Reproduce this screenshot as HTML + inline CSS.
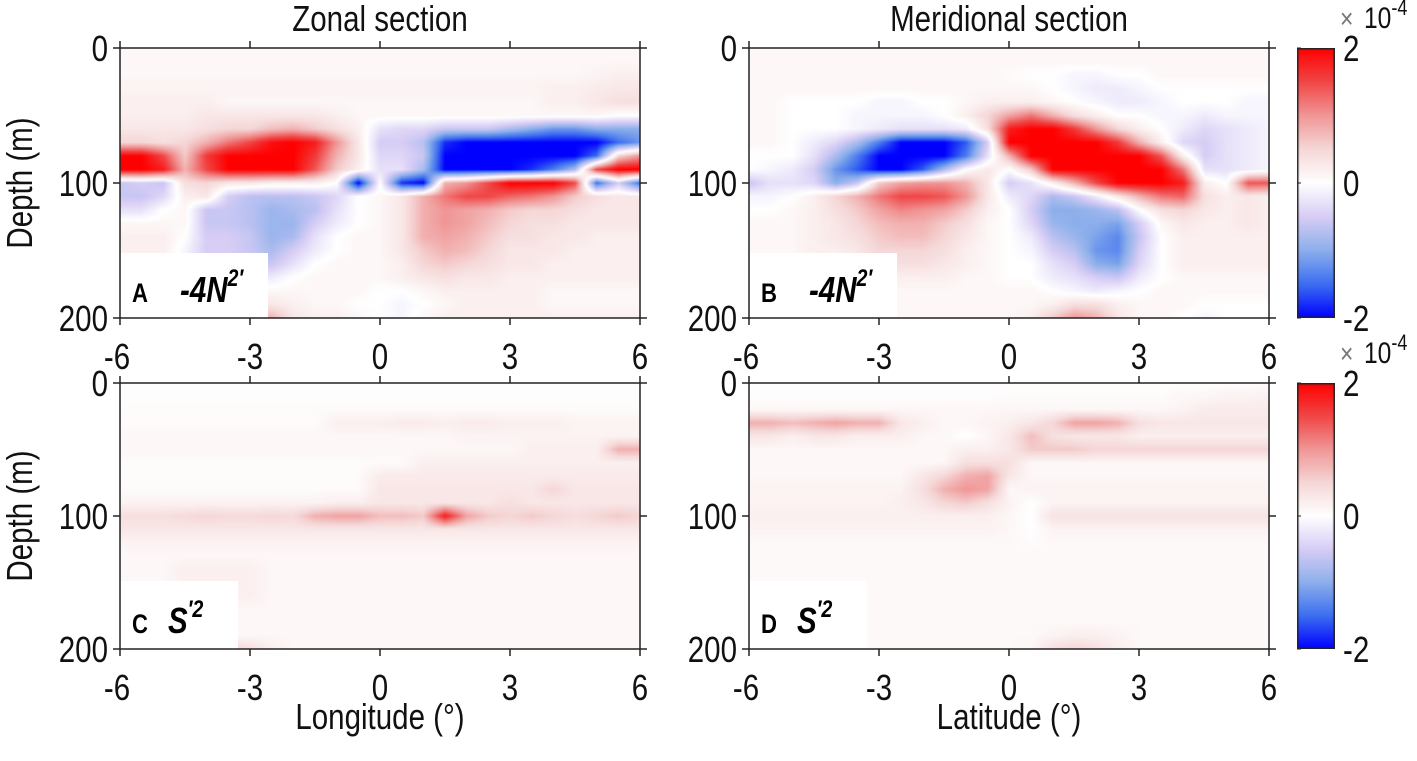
<!DOCTYPE html>
<html><head><meta charset="utf-8">
<style>
html,body{margin:0;padding:0;background:#fff;}
#wrap{position:relative;width:1417px;height:761px;overflow:hidden;font-family:"Liberation Sans",sans-serif;}
canvas{position:absolute;}
svg{position:absolute;left:0;top:0;}
</style></head>
<body>
<div id="wrap">
<canvas id="cA" width="520" height="270" style="left:120px;top:48px"></canvas>
<canvas id="cB" width="521" height="270" style="left:749px;top:48px"></canvas>
<canvas id="cC" width="520" height="266" style="left:120px;top:383px"></canvas>
<canvas id="cD" width="521" height="266" style="left:749px;top:383px"></canvas>
<canvas id="cb1" width="38" height="270" style="left:1297px;top:48px"></canvas>
<canvas id="cb2" width="38" height="266" style="left:1297px;top:383px"></canvas>
<svg id="ov" width="1417" height="761"></svg>
</div>
<script>
// grid: columns -6..6 step 0.5 (25), rows depth 0..200 step 10 (21); values in 1e-4
const xCoords=[-6,-5.5,-5,-4.5,-4,-3.5,-3,-2.5,-2,-1.5,-1,-0.5,0,0.5,1,1.5,2,2.5,3,3.5,4,4.5,5,5.5,6];
const depths=[0,10,20,30,40,50,60,70,80,90,100,110,120,130,140,150,160,170,180,190,200];
const xTicks=[-6,-3,0,3,6];
const yTicks=[0,100,200];
const cbTicks=[2,0,-2];

const panelA=[
[0.1,0.1,0.1,0.1,0.1,0.1,0.1,0.1,0.1,0.1,0.1,0.1,0.1,0.1,0.1,0.1,0.1,0.1,0.1,0.1,0.1,0.1,0.1,0.1,0.1],
[0.1,0.1,0.1,0.1,0.1,0.1,0.1,0.1,0.1,0.1,0.1,0.1,0.1,0.1,0.1,0.1,0.1,0.1,0.1,0.1,0.1,0.1,0.1,0.1,0.1],
[0.1,0.1,0.1,0.1,0.1,0.1,0.1,0.1,0.1,0.1,0.1,0.1,0.1,0.1,0.1,0.1,0.1,0.1,0.1,0.1,0.1,0.1,0.15,0.2,0.2],
[0.15,0.15,0.15,0.15,0.15,0.15,0.15,0.15,0.15,0.15,0.15,0.15,0.15,0.15,0.15,0.15,0.15,0.15,0.15,0.15,0.2,0.2,0.25,0.3,0.3],
[0.2,0.2,0.2,0.2,0.2,0.1,0.1,0.1,0.1,0.1,0.1,0.1,0.1,0.1,0.1,0.1,0.1,0.1,0.1,0.1,0.2,0.2,0.3,0.4,0.4],
[0.2,0.2,0.2,0.2,0.3,0.3,0.3,0.3,0.3,0.3,0.2,0.1,0.1,0.1,0.1,0.1,0.1,0.1,0.1,0.1,0.1,0.1,0.1,0,0],
[0.3,0.3,0.3,0.3,0.4,0.5,0.5,0.7,0.8,0.6,0.4,0.2,-0.3,-0.4,-0.4,-0.6,-0.6,-0.6,-0.8,-1,-1.2,-1.2,-1,-1,-1],
[0.5,0.5,0.4,0.5,0.8,1.2,1.5,1.9,2,1.8,1,0.3,-0.5,-0.5,-0.7,-1.8,-2,-2,-2,-2,-2,-2,-2,-1.5,-1.2],
[2,2,1.5,0.6,1.6,2,2,2,2,1.6,0.8,0.3,-0.4,-0.4,-0.6,-2,-2,-2,-2,-2,-2,-2,-1.5,0.5,1],
[2,2,1.8,0.8,1.5,2,2,2,2,1.4,0.6,0.2,-0.3,-0.3,-0.8,-2,-2,-2,-2,-1.8,-1.4,-0.8,1.5,2,2],
[-0.6,-0.5,-0.6,0.4,0.5,0.3,0.3,0.2,0.2,0.2,0,-2,0,-1.8,-2,0.8,1,1.5,2,2,2,1.5,-1.5,-0.5,-1.5],
[-0.6,-0.6,-0.4,0.2,0.3,-0.5,-0.7,-0.7,-0.7,-0.6,-0.4,0,0.1,0.3,0.8,1.2,1.5,1.5,1.3,1.2,1,0.6,0.4,0.3,0.3],
[-0.3,-0.3,0,0.1,-0.6,-0.6,-0.7,-0.9,-0.8,-0.7,-0.3,0,0.1,0.3,0.8,1,0.9,0.8,0.6,0.5,0.5,0.4,0.3,0.3,0.3],
[0.1,0.1,0.1,0.1,-0.6,-0.6,-0.7,-0.9,-0.9,-0.5,-0.2,0,0.1,0.3,0.8,1,0.9,0.7,0.5,0.4,0.4,0.3,0.3,0.3,0.3],
[0.2,0.2,0.2,0,-0.5,-0.5,-0.6,-0.9,-0.8,-0.3,0,0.1,0.1,0.3,0.8,0.9,0.8,0.6,0.4,0.4,0.3,0.3,0.2,0.2,0.2],
[0.2,0.2,0.2,-0.1,-0.5,-0.5,-0.6,-0.8,-0.5,-0.2,0,0.1,0.1,0.3,0.6,0.8,0.7,0.5,0.3,0.3,0.3,0.2,0.2,0.2,0.2],
[0.2,0.2,0.2,-0.1,-0.4,-0.4,-0.5,-0.6,-0.3,0,0.1,0.1,0.1,0.2,0.5,0.6,0.5,0.4,0.3,0.3,0.2,0.2,0.2,0.2,0.2],
[0.2,0.2,0.2,0,-0.2,-0.2,-0.2,-0.2,0,0.1,0.1,0.1,0.1,0.2,0.3,0.4,0.3,0.3,0.2,0.2,0.2,0.2,0.2,0.2,0.2],
[0.1,0.1,0.1,0.1,0.1,0.1,0.1,0.1,0.1,0.1,0.1,0.1,0,0,0.1,0.2,0.2,0.2,0.2,0.2,0.1,0.1,0.1,0.1,0.1],
[0.2,0.2,0.2,0.1,0.1,0.2,0.3,0.3,0.2,0.1,0.1,0,0,-0.1,0,0.1,0.2,0.2,0.2,0.2,0.1,0.1,0.1,0.1,0.1],
[0.2,0.2,0.2,0.2,0.2,0.3,0.5,0.8,0.3,0.2,0.2,0.1,0,-0.1,0.1,0.2,0.2,0.2,0.2,0.2,0.2,0.2,0.2,0.2,0.2]
];
const panelB=[
[0.1,0.1,0.1,0.1,0.1,0.1,0.1,0.1,0.1,0.1,0.1,0.1,0.1,0.1,0.1,0.1,0.1,0.1,0.1,0.1,0.1,0.1,0.1,0.1,0.1],
[0.1,0.1,0.1,0.1,0.1,0.1,0.1,0.1,0.1,0.1,0.1,0.1,0.1,0.1,0.1,0.1,0.1,0.1,0.1,0.1,0.1,0.1,0.1,0.1,0.1],
[0.1,0.1,0.1,0.1,0.1,0.1,0.1,0.1,0.1,0.1,0.1,0.1,0.05,0,0,-0.1,-0.1,0,0,0.1,0.1,0.1,0.1,0.1,0.1],
[0.1,0.1,0.1,0.1,0.1,0.1,0.1,0.1,0.1,0.1,0.1,0.1,0.1,0.1,0,-0.1,-0.2,-0.2,-0.1,0,0,0,0,0,0],
[0.1,0.1,0,0,0,0,-0.1,-0.1,0,0,0.1,0.2,0.2,0.2,0.1,0,-0.1,-0.2,-0.2,-0.1,0,0,0,-0.1,-0.1],
[0.1,0.1,0,0,0,-0.1,-0.1,-0.1,-0.1,0,0.2,0.5,0.9,1.2,0.8,0.4,0.2,0,0,-0.1,-0.1,-0.2,-0.1,-0.1,-0.1],
[0.1,0.1,0,0,0,-0.1,-0.2,-0.3,-0.3,-0.3,-0.2,0.4,1.8,2,2,1.6,1,0.5,0.2,0,-0.2,-0.4,-0.3,-0.2,-0.1],
[0.1,0.1,0,-0.2,-0.4,-0.8,-1.4,-2,-2,-2,-1.6,-0.5,2,2,2,2,2,1.6,0.8,0.2,-0.4,-0.5,-0.3,-0.2,-0.1],
[0,0,0,-0.3,-0.8,-1.4,-2,-2,-2,-2,-1.4,-0.3,0.8,2,2,2,2,2,2,1.4,0.2,-0.5,-0.3,-0.2,-0.1],
[0,-0.1,-0.2,-0.5,-1.2,-1.6,-2,-2,-1.6,-0.8,0,0.3,0,0.6,2,2,2,2,2,2,1.2,-0.3,-0.3,-0.2,-0.1],
[-0.6,-0.3,-0.3,-0.4,-1,-0.6,0.6,0.9,1,1,0.8,0.3,-0.5,-0.3,0.2,0.8,1.5,2,2,2,1.8,0.2,0,1.4,1.4],
[-0.1,-0.1,0,0.2,0.5,0.8,1.2,1.5,1.5,1.4,1,0.3,-0.2,-0.4,-0.8,-0.6,-0.2,0.3,0.8,1.2,1.3,0.4,0.2,0.3,0.2],
[0,0,0.1,0.2,0.4,0.6,0.9,1.1,1,0.9,0.6,0.2,0,-0.5,-1,-1,-0.9,-0.7,0,0.4,0.5,0.3,0.2,0.3,0.2],
[0.1,0.1,0.1,0.2,0.3,0.5,0.7,0.8,0.8,0.6,0.4,0.1,0,-0.4,-0.9,-1,-1,-1.1,-0.5,0.1,0.3,0.2,0.2,0.3,0.2],
[0.1,0.1,0.1,0.2,0.3,0.4,0.6,0.7,0.7,0.5,0.3,0.1,0,-0.2,-0.7,-0.9,-1.1,-1.3,-0.6,0,0.2,0.2,0.2,0.2,0.2],
[0.1,0.1,0.1,0.2,0.2,0.3,0.5,0.5,0.5,0.4,0.2,0.1,0,-0.1,-0.5,-0.7,-1.2,-1.3,-0.5,0,0.2,0.2,0.2,0.2,0.2],
[0.1,0.1,0.1,0.1,0.2,0.3,0.4,0.4,0.4,0.3,0.2,0.1,0,0,-0.3,-0.5,-1,-1.1,-0.4,0,0.2,0.2,0.2,0.2,0.2],
[0.1,0.1,0.1,0.1,0.1,0.2,0.2,0.2,0.2,0.2,0.1,0.1,0,0,-0.2,-0.3,-0.5,-0.6,-0.2,0,0.1,0.1,0.1,0.1,0.1],
[0.1,0.1,0.1,0.1,0.1,0.1,0.1,0.1,0.1,0.1,0.1,0.1,0.1,0.1,0,-0.1,-0.2,-0.1,0,0.1,0.1,0.1,0.1,0.1,0.1],
[0.1,0.1,0.1,0.1,0.1,0.1,0.1,0.1,0.1,0.1,0.1,0.1,0.1,0.1,0.2,0.4,0.4,0.2,0.1,0.1,0.1,0,0,0,0],
[0.1,0.1,0.1,0.1,0.1,0.1,0.1,0.1,0.1,0.1,0.1,0.1,0.1,0.2,0.6,1,0.8,0.3,0.1,0.1,0,-0.1,0,0,0]
];
const panelC=[
[0.03,0.03,0.03,0.03,0.03,0.03,0.03,0.03,0.03,0.03,0.03,0.03,0.03,0.03,0.03,0.03,0.03,0.03,0.03,0.03,0.03,0.03,0.03,0.03,0.03],
[0.03,0.03,0.03,0.03,0.03,0.03,0.03,0.03,0.03,0.03,0.03,0.03,0.03,0.03,0.03,0.03,0.03,0.03,0.03,0.03,0.03,0.03,0.03,0.03,0.03],
[0.05,0.05,0.05,0.05,0.05,0.05,0.05,0.05,0.05,0.05,0.05,0.05,0.05,0.05,0.05,0.05,0.05,0.05,0.05,0.05,0.05,0.05,0.05,0.05,0.05],
[0.05,0.05,0.05,0.05,0.05,0.05,0.05,0.05,0.05,0.05,0.2,0.2,0.2,0.25,0.25,0.2,0.25,0.25,0.2,0.2,0.2,0.15,0.15,0.15,0.15],
[0.1,0.1,0.1,0.1,0.1,0.1,0.1,0.1,0.1,0.1,0.1,0.1,0.1,0.1,0.1,0.1,0.15,0.15,0.15,0.15,0.15,0.15,0.15,0.15,0.15],
[0.1,0.1,0.1,0.1,0.1,0.1,0.1,0.1,0.1,0.1,0.1,0.1,0.1,0.1,0.1,0.1,0.1,0.1,0.1,0.2,0.2,0.2,0.2,0.8,0.8],
[0.05,0.05,0.05,0.05,0.05,0.05,0.05,0.05,0.05,0.05,0.05,0.05,0.05,0.05,0.2,0.2,0.2,0.2,0.2,0.2,0.2,0.2,0.2,0.2,0.2],
[0.05,0.05,0.05,0.05,0.05,0.05,0.05,0.05,0.05,0.05,0.05,0.05,0.25,0.25,0.25,0.25,0.25,0.25,0.25,0.25,0.25,0.25,0.25,0.25,0.25],
[0.05,0.05,0.05,0.05,0.05,0.05,0.05,0.05,0.05,0.05,0.05,0.05,0.3,0.3,0.3,0.3,0.3,0.3,0.3,0.3,0.5,0.3,0.3,0.3,0.3],
[0.15,0.15,0.15,0.15,0.15,0.15,0.15,0.15,0.15,0.15,0.2,0.2,0.3,0.3,0.3,0.3,0.3,0.3,0.4,0.3,0.3,0.3,0.3,0.3,0.3],
[0.4,0.4,0.4,0.45,0.5,0.45,0.45,0.5,0.45,0.8,0.9,0.9,0.7,0.7,0.6,1.8,0.9,0.6,0.5,0.6,0.5,0.4,0.5,0.6,0.5],
[0.3,0.3,0.3,0.3,0.3,0.3,0.3,0.3,0.3,0.3,0.3,0.3,0.3,0.3,0.3,0.3,0.3,0.3,0.3,0.3,0.3,0.3,0.3,0.3,0.3],
[0.15,0.15,0.15,0.15,0.15,0.15,0.15,0.15,0.15,0.15,0.15,0.15,0.15,0.15,0.15,0.15,0.15,0.15,0.15,0.15,0.15,0.15,0.15,0.15,0.15],
[0.1,0.1,0.1,0.1,0.1,0.1,0.1,0.1,0.1,0.1,0.1,0.1,0.1,0.1,0.1,0.1,0.1,0.1,0.1,0.1,0.1,0.1,0.1,0.1,0.1],
[0.1,0.1,0.1,0.2,0.2,0.2,0.2,0.1,0.1,0.1,0.1,0.1,0.1,0.1,0.1,0.1,0.1,0.1,0.1,0.1,0.1,0.1,0.1,0.1,0.1],
[0.1,0.1,0.1,0.2,0.2,0.2,0.2,0.1,0.1,0.1,0.1,0.1,0.1,0.1,0.1,0.1,0.1,0.1,0.1,0.1,0.1,0.1,0.1,0.1,0.1],
[0.1,0.1,0.1,0.2,0.2,0.2,0.2,0.1,0.1,0.1,0.1,0.1,0.1,0.1,0.1,0.1,0.1,0.1,0.1,0.1,0.1,0.1,0.1,0.1,0.1],
[0.1,0.1,0.1,0.1,0.1,0.1,0.1,0.1,0.1,0.1,0.1,0.1,0.1,0.1,0.1,0.1,0.1,0.1,0.1,0.1,0.1,0.1,0.1,0.1,0.1],
[0.1,0.1,0.1,0.1,0.1,0.1,0.1,0.1,0.1,0.1,0.1,0.1,0.1,0.1,0.1,0.1,0.1,0.1,0.1,0.1,0.1,0.1,0.1,0.1,0.1],
[0.1,0.1,0.1,0.1,0.1,0.1,0.1,0.1,0.1,0.1,0.1,0.1,0.1,0.1,0.1,0.1,0.1,0.1,0.1,0.1,0.1,0.1,0.1,0.1,0.1],
[0.1,0.1,0.1,0.2,0.4,0.5,0.4,0.2,0.1,0.1,0.1,0.1,0.1,0.1,0.1,0.1,0.1,0.1,0.1,0.1,0.1,0.1,0.1,0.1,0.1]
];
const panelD=[
[0.03,0.03,0.03,0.03,0.03,0.03,0.03,0.03,0.03,0.03,0.03,0.03,0.03,0.03,0.03,0.03,0.03,0.03,0.03,0.03,0.03,0.03,0.03,0.03,0.03],
[0.03,0.03,0.03,0.03,0.03,0.03,0.03,0.03,0.03,0.03,0.03,0.03,0.05,0.05,0.05,0.05,0.05,0.05,0.05,0.05,0.1,0.1,0.15,0.15,0.2],
[0.1,0.1,0.1,0.1,0.1,0.1,0.1,0.1,0.1,0.1,0.1,0.1,0.1,0.1,0.1,0.1,0.1,0.1,0.1,0.1,0.15,0.25,0.25,0.25,0.25],
[0.8,0.8,0.7,0.8,0.9,0.8,0.8,0.3,0.2,0.1,0.1,0.15,0.2,0.3,0.5,0.9,0.9,0.8,0.4,0.3,0.3,0.3,0.3,0.3,0.3],
[0.3,0.3,0.2,0.3,0.3,0.2,0.2,0.2,0.1,0.1,0,0.1,0.3,0.7,0.4,0.3,0.3,0.3,0.2,0.2,0.2,0.2,0.2,0.2,0.2],
[0.1,0.1,0.1,0.1,0.1,0.1,0.1,0.1,0.1,0.1,0.2,0.2,0.3,0.6,0.6,0.6,0.5,0.5,0.5,0.5,0.5,0.5,0.5,0.5,0.5],
[0.1,0.1,0.1,0.1,0.1,0.1,0.1,0.1,0.1,0.1,0.4,0.4,0.4,0.1,0.1,0.1,0.1,0.1,0.1,0.1,0.1,0.1,0.1,0.1,0.1],
[0.1,0.1,0.1,0.1,0.1,0.1,0.1,0.1,0.3,0.5,0.8,0.9,0.3,0.1,0.1,0.1,0.1,0.1,0.1,0.1,0.1,0.1,0.1,0.1,0.1],
[0.15,0.15,0.15,0.15,0.15,0.15,0.15,0.15,0.4,0.8,1,0.9,0.1,0.15,0.15,0.15,0.15,0.15,0.15,0.15,0.15,0.15,0.15,0.15,0.15],
[0.15,0.15,0.15,0.15,0.15,0.15,0.15,0.2,0.3,0.5,0.6,0.4,0.15,0,0.15,0.15,0.15,0.15,0.15,0.15,0.15,0.15,0.15,0.15,0.15],
[0.2,0.2,0.2,0.2,0.2,0.2,0.2,0.2,0.2,0.2,0.2,0.2,0.1,0,0.35,0.35,0.35,0.35,0.35,0.35,0.35,0.35,0.35,0.35,0.35],
[0.15,0.15,0.15,0.15,0.15,0.15,0.15,0.15,0.15,0.15,0.15,0.15,0.1,0,0.15,0.15,0.15,0.15,0.15,0.15,0.15,0.15,0.15,0.15,0.15],
[0.08,0.08,0.08,0.08,0.08,0.08,0.08,0.08,0.08,0.08,0.08,0.08,0.08,0.05,0.08,0.08,0.08,0.08,0.08,0.08,0.08,0.08,0.08,0.08,0.08],
[0.08,0.08,0.08,0.08,0.08,0.08,0.08,0.08,0.08,0.08,0.08,0.08,0.08,0.08,0.08,0.08,0.08,0.08,0.08,0.08,0.08,0.08,0.08,0.08,0.08],
[0.08,0.08,0.08,0.08,0.08,0.08,0.08,0.08,0.08,0.08,0.08,0.08,0.08,0.08,0.08,0.08,0.08,0.08,0.08,0.08,0.08,0.08,0.08,0.08,0.08],
[0.08,0.08,0.08,0.08,0.08,0.08,0.08,0.08,0.08,0.08,0.08,0.08,0.08,0.08,0.08,0.08,0.08,0.08,0.08,0.08,0.08,0.08,0.08,0.08,0.08],
[0.08,0.08,0.08,0.08,0.08,0.08,0.08,0.08,0.08,0.08,0.08,0.08,0.08,0.08,0.08,0.08,0.08,0.08,0.08,0.08,0.08,0.08,0.08,0.08,0.08],
[0.08,0.08,0.08,0.08,0.08,0.08,0.08,0.08,0.08,0.08,0.08,0.08,0.08,0.08,0.08,0.08,0.08,0.08,0.08,0.08,0.08,0.08,0.08,0.08,0.08],
[0.08,0.08,0.08,0.08,0.08,0.08,0.08,0.08,0.08,0.08,0.08,0.08,0.08,0.08,0.08,0.08,0.08,0.08,0.08,0.08,0.08,0.08,0.08,0.08,0.08],
[0.08,0.08,0.08,0.08,0.08,0.08,0.08,0.08,0.08,0.08,0.08,0.08,0.08,0.08,0.15,0.2,0.2,0.15,0.08,0.08,0.08,0.08,0.08,0.08,0.08],
[0.08,0.08,0.08,0.08,0.08,0.08,0.08,0.08,0.08,0.08,0.08,0.08,0.08,0.1,0.4,0.5,0.4,0.2,0.08,0.08,0.08,0.08,0.08,0.08,0.08]
];

const stops=[[-1,[0,0,255]],[-0.75,[60,110,240]],[-0.5,[140,175,235]],[-0.25,[215,205,245]],[0,[255,255,255]],[0.25,[245,215,215]],[0.5,[240,150,150]],[0.75,[240,70,70]],[1,[255,0,0]]];
function cmap(v){
  let t=Math.max(-1,Math.min(1,v/2));
  for(let i=0;i<stops.length-1;i++){
    const a=stops[i],b=stops[i+1];
    if(t<=b[0]){const f=(t-a[0])/(b[0]-a[0]);return [0,1,2].map(k=>a[1][k]+(b[1][k]-a[1][k])*f);}
  }
  return stops[stops.length-1][1];
}
function drawHeat(id,grid){
  const c=document.getElementById(id),ctx=c.getContext('2d');
  const W=c.width,H=c.height,img=ctx.createImageData(W,H);
  const x0=xCoords[0],x1=xCoords[xCoords.length-1],d1=depths[depths.length-1];
  const nx=xCoords.length-1,ny=depths.length-1;
  for(let py=0;py<H;py++){
    const dv=(py+0.5)/H*d1;
    let gy=dv/(d1/ny);let j=Math.min(ny-1,Math.floor(gy));let fy=gy-j;
    for(let px=0;px<W;px++){
      const xv=x0+(px+0.5)/W*(x1-x0);
      let gx=(xv-x0)/((x1-x0)/nx);let i=Math.min(nx-1,Math.floor(gx));let fx=gx-i;
      const v=grid[j][i]*(1-fx)*(1-fy)+grid[j][i+1]*fx*(1-fy)+grid[j+1][i]*(1-fx)*fy+grid[j+1][i+1]*fx*fy;
      const col=cmap(v),k=(py*W+px)*4;
      img.data[k]=col[0];img.data[k+1]=col[1];img.data[k+2]=col[2];img.data[k+3]=255;
    }
  }
  ctx.putImageData(img,0,0);
}
drawHeat('cA',panelA);drawHeat('cB',panelB);drawHeat('cC',panelC);drawHeat('cD',panelD);
function drawCB(id){
  const c=document.getElementById(id),ctx=c.getContext('2d');
  for(let y=0;y<c.height;y++){const v=2-4*(y+0.5)/c.height;const col=cmap(v);
    ctx.fillStyle='rgb('+col.map(Math.round).join(',')+')';ctx.fillRect(0,y,c.width,1);}
  ctx.strokeStyle='#222';ctx.lineWidth=1.5;ctx.strokeRect(0.75,0.75,c.width-1.5,c.height-1.5);
}
drawCB('cb1');drawCB('cb2');

const NS='http://www.w3.org/2000/svg';
const svg=document.getElementById('ov');
const SX=0.82;
function el(tag,attrs,parent){const e=document.createElementNS(NS,tag);for(const k in attrs)e.setAttribute(k,attrs[k]);(parent||svg).appendChild(e);return e;}
// condensed text: positioned via transform
function txt(s,x,y,size,anchor,parent,extra,rot){
  const tr='translate('+x+','+y+')'+(rot?' rotate('+rot+')':'')+' scale('+SX+',1)';
  const t=el('text',Object.assign({x:0,y:0,transform:tr,'font-size':size,'text-anchor':anchor||'middle','font-family':'Liberation Sans, sans-serif',fill:'#111'},extra||{}),parent);
  t.textContent=s;return t;}

const panels=[
 {id:'a',L:120,R:640,T:48,B:318,label:'A',box:[120,253,148,65],lab:'-4N',sup:"2\u2032"},
 {id:'b',L:749,R:1269,T:48,B:318,label:'B',box:[749,253,148,65],lab:'-4N',sup:"2\u2032"},
 {id:'c',L:120,R:640,T:383,B:649,label:'C',box:[120,581,118,68],lab:'S',sup:"\u20322"},
 {id:'d',L:749,R:1269,T:383,B:649,label:'D',box:[749,581,118,68],lab:'S',sup:"\u20322"}
];
panels.forEach(p=>{
  const g=el('g',{});
  
  
  const xs=v=>p.L+(v-xCoords[0])/(xCoords[xCoords.length-1]-xCoords[0])*(p.R-p.L);
  const ys=v=>p.T+(v-depths[0])/(depths[depths.length-1]-depths[0])*(p.B-p.T);
  const bx=el('rect',{x:p.box[0],y:p.box[1],width:p.box[2],height:p.box[3],fill:'#fff'},g);
  
  
  const by=p.box[1]+p.box[3]-16;
  const lt=txt(p.label,p.box[0]+12,by,27,'start',g,{'font-weight':'bold',fill:'#000'});
  
  
  const vt=txt(p.lab,p.box[0]+(p.lab==='S'?48:60),by,36,'start',g,{'font-weight':'bold','font-style':'italic',fill:'#000'});
  
  
  const sp=el('tspan',{dy:-16,'font-size':24},vt);sp.textContent=p.sup;
  const fr=el('rect',{x:p.L,y:p.T,width:p.R-p.L,height:p.B-p.T,fill:'none',stroke:'#222','stroke-width':1.5},g);
  
  
  xTicks.forEach(v=>{
    el('line',{x1:xs(v),x2:xs(v),y1:p.T,y2:p.T-7,stroke:'#222','stroke-width':1.5},g);
    el('line',{x1:xs(v),x2:xs(v),y1:p.B,y2:p.B+7,stroke:'#222','stroke-width':1.5},g);
    const t=txt(String(v),xs(v)+(v===-6?-3:0),p.B+51,36,'middle',g);
    
    
  });
  yTicks.forEach(v=>{
    el('line',{x1:p.L,x2:p.L-7,y1:ys(v),y2:ys(v),stroke:'#222','stroke-width':1.5},g);
    el('line',{x1:p.R,x2:p.R+7,y1:ys(v),y2:ys(v),stroke:'#222','stroke-width':1.5},g);
    const t=txt(String(v),p.L-12,ys(v)+13,36,'end',g);
    
    
  });
});
[183,516].forEach(cy=>{
  const t=txt('Depth (m)',32,cy,36,'middle',null,{},-90);
  
  
});
let t1=txt('Zonal section',380,31,36,'middle');


let t2=txt('Meridional section',1009,31,36,'middle');


let t3=txt('Longitude (\u00B0)',380,729,36,'middle');


let t4=txt('Latitude (\u00B0)',1009,729,36,'middle');


[[48,318],[383,649]].forEach(([T,B])=>{
  cbTicks.forEach(v=>{
    const y=T+(2-v)/4*(B-T);
    el('line',{x1:1297,x2:1301,y1:y,y2:y,stroke:'#222','stroke-width':1});
    const t=txt(String(v),1343,y+13,36,'start');
    
    
  });
  const e=txt('\u00D7',1340,T-20,28,'start',null,{fill:'#777'});
  
  
  const e2=txt('10',1364,T-20,30,'start');
  
  
  const sp=el('tspan',{dy:-13,'font-size':22},e2);sp.textContent='-4';
});
</script>
</body></html>
